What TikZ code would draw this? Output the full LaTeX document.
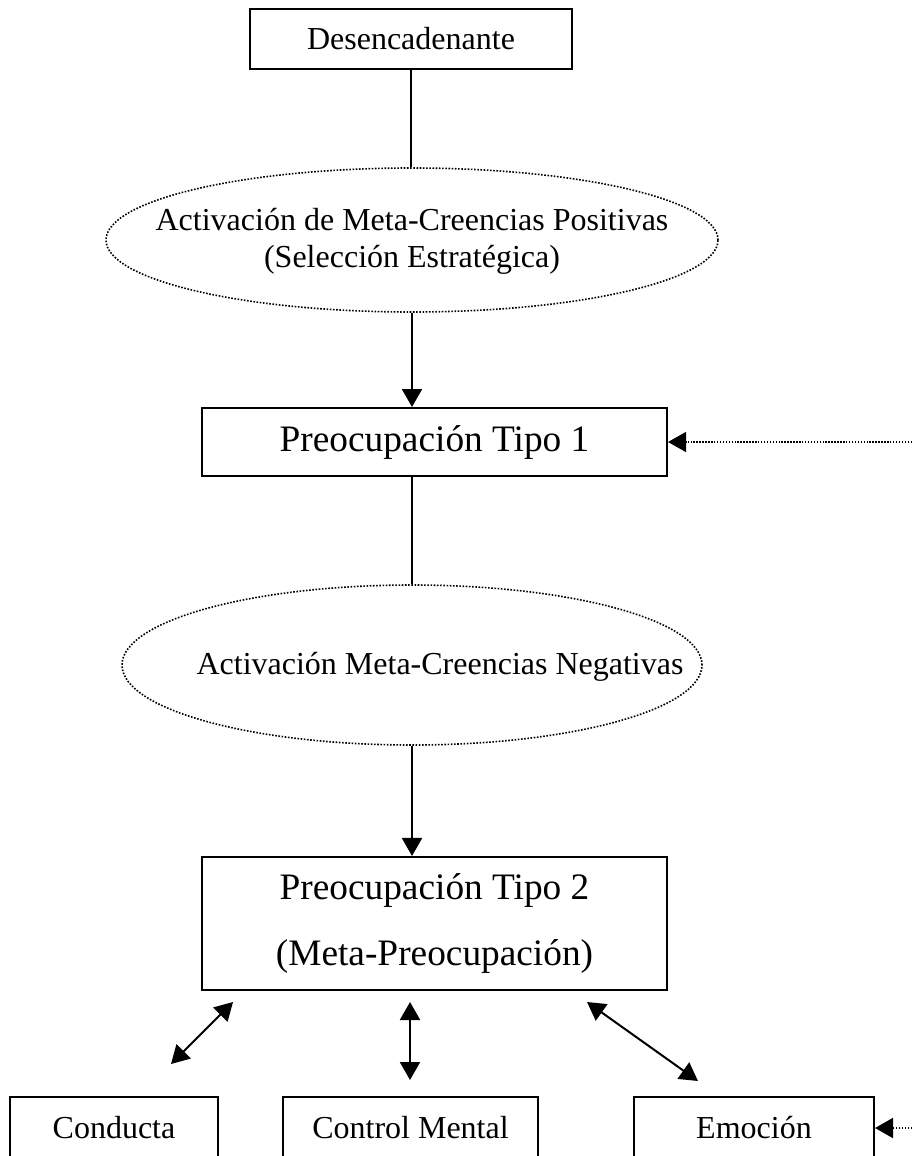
\documentclass[tikz,border=0pt]{standalone}
\usepackage{fontspec}
\setmainfont{Liberation Serif}
\usetikzlibrary{arrows.meta,shapes.geometric}
\tikzset{
  box/.style={draw, line width=0.75pt, rectangle, inner sep=0pt, align=center},
  oval/.style={draw, ellipse, line width=0.6pt, dash pattern=on 0.6pt off 0.6pt, inner sep=0pt},
  small/.style={font=\fontsize{12}{14}\selectfont},
  large/.style={font=\fontsize{14}{17}\selectfont},
  link/.style={line width=0.75pt},
  feedback/.style={line width=0.6pt, dash pattern=on 0.55pt off 0.55pt},
  tip/.style={-{Triangle[length=6.75pt,width=7.5pt]}},
  both/.style={{Triangle[length=6.75pt,width=7.5pt]}-{Triangle[length=6.75pt,width=7.5pt]}}
}
\begin{document}
\begin{tikzpicture}[x=0.375pt,y=-0.375pt]
\useasboundingbox (0,0) rectangle (912,1156);
\clip (0,0) rectangle (912,1156);

% main chain
\node[box, small, minimum width=120.75pt, minimum height=22.5pt] (trigger) at (411,39) {Desencadenante};
\node[oval, minimum width=229.5pt, minimum height=54pt] (pos) at (412,240) {};
\node[align=center, font=\fontsize{12}{13.9}\selectfont] (posText) at (412,241)
  {Activación de Meta-Creencias Positivas\\(Selección Estratégica)};
\node[box, large, minimum width=174.4pt, minimum height=25.5pt] (w1) at (434.5,442) {Preocupación Tipo 1};
\node[oval, minimum width=217.5pt, minimum height=60pt] (neg) at (412,665) {};
\node[small] (negText) at (440,667) {Activación Meta-Creencias Negativas};
\node[box, font=\fontsize{14}{25.1}\selectfont, minimum width=174.4pt, minimum height=49.9pt] (w2) at (434.5,923.5)
  {Preocupación Tipo 2\\(Meta-Preocupación)};

% consequences
\node[box, small, minimum width=78pt, minimum height=23.25pt] (beh) at (114,1128) {Conducta};
\node[box, small, minimum width=95.6pt, minimum height=23.25pt] (ctrl) at (410.5,1128) {Control Mental};
\node[box, small, minimum width=90pt, minimum height=23.25pt] (emo) at (754,1128) {Emoción};

% free ends of the loose arrows
\coordinate (rimTop) at (912,442);
\coordinate (rimBot) at (912,1128);
\coordinate (a1) at (233,1002);
\coordinate (b1) at (171,1064);
\coordinate (a2) at (410,1002);
\coordinate (b2) at (410,1080);
\coordinate (a3) at (587,1002);
\coordinate (b3) at (698,1081);

% connectors
\draw[link] (trigger.south) -- (trigger.south |- pos.north);
\draw[link, tip] (pos.south) -- (pos.south |- w1.north);
\draw[link] (w1.south -| neg.north) -- (neg.north);
\draw[link, tip] (neg.south) -- (neg.south |- w2.north);
\draw[feedback, tip] (rimTop) -- (w1.east);
\draw[feedback, tip] (rimBot) -- (emo.east);
\draw[link, both] (a1) -- (b1);
\draw[link, both] (a2) -- (b2);
\draw[link, both] (a3) -- (b3);
\end{tikzpicture}
\end{document}
